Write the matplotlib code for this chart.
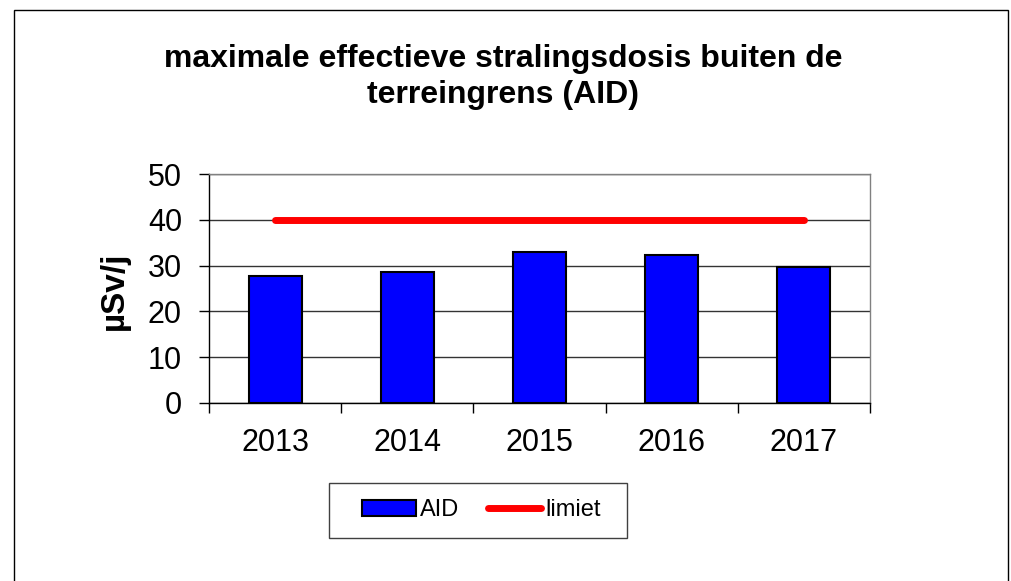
import matplotlib
matplotlib.use("Agg")
import matplotlib.pyplot as plt
from matplotlib.patches import Rectangle
from matplotlib.lines import Line2D
import numpy as np

years = ["2013", "2014", "2015", "2016", "2017"]
aid = [27.7, 28.6, 32.9, 32.3, 29.7]
limiet = [40, 40, 40, 40, 40]
title = "maximale effectieve stralingsdosis buiten de\nterreingrens (AID)"
ylabel = "µSv/j"
legend_labels = ["AID", "limiet"]

plt.rcParams['font.family'] = ['Liberation Sans', 'DejaVu Sans']

W, H = 1011, 581
fig = plt.figure(figsize=(W / 100, H / 100), dpi=100)
fig.patch.set_facecolor('white')

# outer chart frame
fig.patches.append(Rectangle((14 / W, -0.1), (1008 - 14) / W, 1.1 - 10 / H,
                             transform=fig.transFigure, fill=False,
                             edgecolor='black', linewidth=1.0))

left, right, top, bottom = 209 / W, 870 / W, 1 - 174 / H, 1 - 403 / H
ax = fig.add_axes([left, bottom, right - left, top - bottom])

x = np.arange(len(years))
ax.bar(x, aid, width=0.4, color='#0000FF', edgecolor='black', linewidth=1.5,
       zorder=3, label=legend_labels[0])
ax.plot(x, limiet, color='#FF0000', linewidth=5, solid_capstyle='round',
        zorder=4, label=legend_labels[1])

ax.set_xlim(-0.5, len(years) - 0.5)
ax.set_ylim(0, 50)
ax.set_yticks(np.arange(0, 51, 10))
ax.yaxis.grid(True, color='#333333', linewidth=1.0, zorder=0)
ax.set_axisbelow(True)

ax.set_xticks(x)
ax.set_xticklabels(years, fontsize=22)
ax.tick_params(axis='x', which='major', length=0, pad=18)
ax.set_xticks(np.arange(-0.5, len(years), 1), minor=True)
ax.tick_params(axis='x', which='minor', length=7.5, width=1.0, direction='out')
ax.tick_params(axis='y', length=7.5, width=1.0, direction='out', labelsize=22, pad=12)

for s in ['top', 'right']:
    ax.spines[s].set_color('#808080')
    ax.spines[s].set_linewidth(1.0)
for s in ['left', 'bottom']:
    ax.spines[s].set_color('black')
    ax.spines[s].set_linewidth(1.0)

fig.text(114 / W, 1 - 291 / H, ylabel, rotation=90, ha='center', va='center',
         fontsize=24, fontweight='bold')

fig.text(503 / W, 1 - 77 / H, title, ha='center', va='center',
         fontsize=23, fontweight='bold', linespacing=1.27)

# legend
fig.patches.append(Rectangle((329 / W, 1 - 538 / H), (627 - 329) / W, (538 - 483) / H,
                             transform=fig.transFigure, fill=True, facecolor='white',
                             edgecolor='#404040', linewidth=1.0, zorder=5))
handles = [Rectangle((0, 0), 1, 1, facecolor='#0000FF', edgecolor='black', linewidth=1.5),
           Line2D([0], [0], color='#FF0000', linewidth=5, solid_capstyle='round')]
leg = fig.legend(handles, legend_labels, loc='center',
                 bbox_to_anchor=(481.5 / W, 1 - 510.5 / H), ncol=2, fontsize=17,
                 frameon=False, handlelength=2.25, handleheight=0.65,
                 handletextpad=0.17, columnspacing=1.23, borderpad=0,
                 borderaxespad=0)
leg.set_zorder(6)

fig.savefig('out.png', dpi=100)
